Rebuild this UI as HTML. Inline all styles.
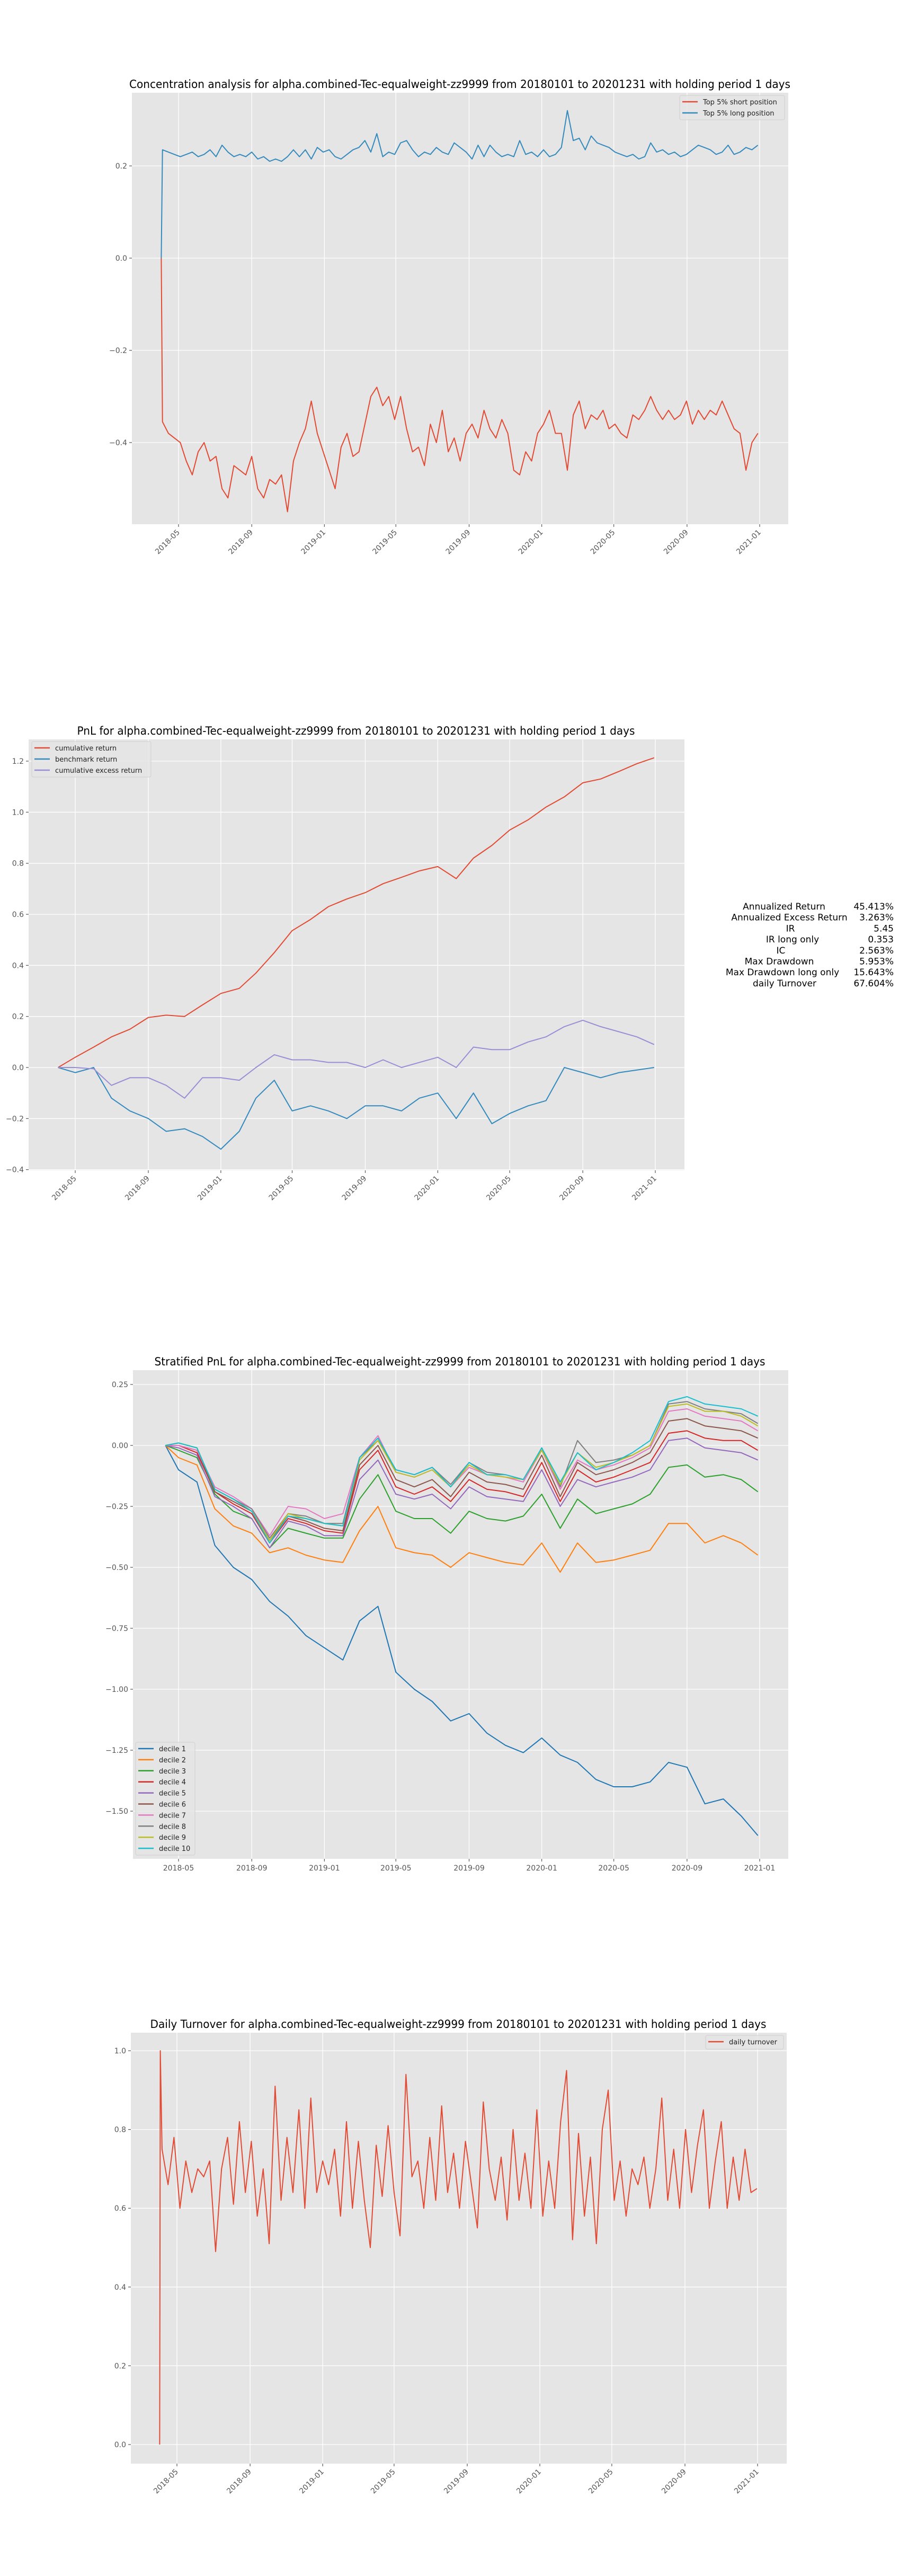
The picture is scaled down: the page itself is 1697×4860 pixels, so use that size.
<!DOCTYPE html>
<html><head><meta charset="utf-8"><style>
html,body{margin:0;padding:0;background:#fff;}
svg{display:block;font-family:"DejaVu Sans","Liberation Sans",sans-serif;}
</style></head><body>
<svg id="fig" width="1697" height="4860" viewBox="0 0 1697 4860" xmlns="http://www.w3.org/2000/svg">
<rect x="0" y="0" width="1697" height="4860" fill="#fff"/>
<g id="stats" font-size="17" fill="#000"></g>
</svg>
<script>
// ---- chart 1: concentration (10-day samples from day 93 of 2018, preceded by start point) ----
const c1Short = [0,-0.355,-0.38,-0.39,-0.40,-0.44,-0.47,-0.42,-0.40,-0.44,-0.43,-0.50,-0.52,-0.45,-0.46,-0.47,-0.43,-0.50,-0.52,-0.48,-0.49,-0.47,-0.55,-0.44,-0.40,-0.37,-0.31,-0.38,-0.42,-0.46,-0.50,-0.41,-0.38,-0.43,-0.42,-0.36,-0.30,-0.28,-0.32,-0.30,-0.35,-0.30,-0.37,-0.42,-0.41,-0.45,-0.36,-0.40,-0.33,-0.42,-0.39,-0.44,-0.38,-0.36,-0.39,-0.33,-0.37,-0.39,-0.35,-0.38,-0.46,-0.47,-0.42,-0.44,-0.38,-0.36,-0.33,-0.38,-0.38,-0.46,-0.34,-0.31,-0.37,-0.34,-0.35,-0.33,-0.37,-0.36,-0.38,-0.39,-0.34,-0.35,-0.33,-0.30,-0.33,-0.35,-0.33,-0.35,-0.34,-0.31,-0.36,-0.33,-0.35,-0.33,-0.34,-0.31,-0.34,-0.37,-0.38,-0.46,-0.40,-0.38];
const c1Long = [0,0.235,0.23,0.225,0.22,0.225,0.23,0.22,0.225,0.235,0.22,0.245,0.23,0.22,0.225,0.22,0.23,0.215,0.22,0.21,0.215,0.21,0.22,0.235,0.22,0.235,0.215,0.24,0.23,0.235,0.22,0.215,0.225,0.235,0.24,0.255,0.23,0.27,0.22,0.23,0.225,0.25,0.255,0.235,0.22,0.23,0.225,0.24,0.23,0.225,0.25,0.24,0.23,0.215,0.245,0.22,0.245,0.23,0.22,0.225,0.22,0.255,0.225,0.23,0.22,0.235,0.22,0.225,0.24,0.32,0.255,0.26,0.235,0.265,0.25,0.245,0.24,0.23,0.225,0.22,0.225,0.215,0.22,0.25,0.23,0.235,0.225,0.23,0.22,0.225,0.235,0.245,0.24,0.235,0.225,0.23,0.245,0.225,0.23,0.24,0.235,0.245];
// ---- chart 2: PnL (month starts Apr 2018 .. Jan 2021) ----
const monthLabels = ["2018-04","2018-05","2018-06","2018-07","2018-08","2018-09","2018-10","2018-11","2018-12","2019-01","2019-02","2019-03","2019-04","2019-05","2019-06","2019-07","2019-08","2019-09","2019-10","2019-11","2019-12","2020-01","2020-02","2020-03","2020-04","2020-05","2020-06","2020-07","2020-08","2020-09","2020-10","2020-11","2020-12","2021-01"];
const pnlCum = [0,0.04,0.08,0.12,0.15,0.196,0.205,0.20,0.245,0.29,0.31,0.37,0.45,0.536,0.58,0.63,0.66,0.685,0.72,0.745,0.77,0.787,0.74,0.82,0.87,0.93,0.97,1.02,1.06,1.115,1.13,1.16,1.19,1.213];
const pnlBench = [0,-0.02,0.0,-0.12,-0.17,-0.20,-0.25,-0.24,-0.27,-0.32,-0.25,-0.12,-0.05,-0.17,-0.15,-0.17,-0.20,-0.15,-0.15,-0.17,-0.12,-0.10,-0.20,-0.10,-0.22,-0.18,-0.15,-0.13,0.0,-0.02,-0.04,-0.02,-0.01,0.0];
const pnlExcess = [0,0.0,-0.005,-0.07,-0.04,-0.04,-0.07,-0.12,-0.04,-0.04,-0.05,0.0,0.05,0.03,0.03,0.02,0.02,0.0,0.03,0.0,0.02,0.04,0.0,0.08,0.07,0.07,0.10,0.12,0.16,0.185,0.16,0.14,0.12,0.09];
// ---- chart 3: stratified PnL ----
const d1 = [0,-0.10,-0.15,-0.41,-0.50,-0.55,-0.64,-0.70,-0.78,-0.83,-0.88,-0.72,-0.66,-0.93,-1.0,-1.05,-1.13,-1.10,-1.18,-1.23,-1.26,-1.20,-1.27,-1.30,-1.37,-1.40,-1.40,-1.38,-1.30,-1.32,-1.47,-1.45,-1.52,-1.60];
const d2 = [0,-0.05,-0.08,-0.26,-0.33,-0.36,-0.44,-0.42,-0.45,-0.47,-0.48,-0.35,-0.25,-0.42,-0.44,-0.45,-0.50,-0.44,-0.46,-0.48,-0.49,-0.40,-0.52,-0.40,-0.48,-0.47,-0.45,-0.43,-0.32,-0.32,-0.40,-0.37,-0.40,-0.45];
const d3 = [0,-0.02,-0.05,-0.20,-0.27,-0.30,-0.42,-0.34,-0.36,-0.38,-0.38,-0.22,-0.12,-0.27,-0.30,-0.30,-0.36,-0.27,-0.30,-0.31,-0.29,-0.20,-0.34,-0.22,-0.28,-0.26,-0.24,-0.20,-0.09,-0.08,-0.13,-0.12,-0.14,-0.19];
const d4 = [0,0.0,-0.03,-0.19,-0.24,-0.28,-0.40,-0.30,-0.32,-0.35,-0.36,-0.10,-0.02,-0.17,-0.20,-0.17,-0.23,-0.14,-0.18,-0.19,-0.21,-0.07,-0.23,-0.10,-0.15,-0.13,-0.10,-0.07,0.05,0.06,0.03,0.02,0.02,-0.02];
const d5 = [0,-0.01,-0.04,-0.21,-0.25,-0.30,-0.42,-0.31,-0.33,-0.37,-0.37,-0.14,-0.06,-0.20,-0.22,-0.20,-0.26,-0.17,-0.21,-0.22,-0.23,-0.10,-0.25,-0.14,-0.17,-0.15,-0.13,-0.10,0.02,0.03,-0.01,-0.02,-0.03,-0.06];
const d6 = [0,0.0,-0.02,-0.19,-0.23,-0.27,-0.39,-0.29,-0.31,-0.34,-0.35,-0.08,0.0,-0.14,-0.17,-0.14,-0.21,-0.11,-0.15,-0.16,-0.18,-0.04,-0.21,-0.07,-0.12,-0.10,-0.07,-0.03,0.10,0.11,0.08,0.07,0.06,0.03];
const d7 = [0,0.0,-0.02,-0.17,-0.21,-0.26,-0.37,-0.25,-0.26,-0.30,-0.28,-0.05,0.04,-0.11,-0.13,-0.10,-0.17,-0.09,-0.12,-0.13,-0.15,-0.02,-0.18,-0.06,-0.10,-0.08,-0.05,-0.01,0.14,0.15,0.12,0.11,0.10,0.06];
const d8 = [0,0.01,-0.01,-0.18,-0.22,-0.26,-0.38,-0.28,-0.29,-0.32,-0.32,-0.05,0.02,-0.10,-0.12,-0.09,-0.16,-0.07,-0.11,-0.12,-0.14,-0.01,-0.17,0.02,-0.07,-0.06,-0.04,0.0,0.17,0.18,0.15,0.14,0.13,0.09];
const d9 = [0,0.01,-0.01,-0.18,-0.22,-0.27,-0.39,-0.28,-0.30,-0.32,-0.33,-0.06,0.02,-0.11,-0.13,-0.10,-0.17,-0.08,-0.12,-0.13,-0.14,-0.02,-0.16,-0.03,-0.09,-0.07,-0.04,0.0,0.16,0.17,0.14,0.14,0.12,0.08];
const d10 = [0,0.01,-0.01,-0.18,-0.22,-0.27,-0.40,-0.29,-0.30,-0.32,-0.33,-0.05,0.03,-0.10,-0.12,-0.09,-0.17,-0.07,-0.12,-0.12,-0.14,-0.01,-0.15,-0.03,-0.10,-0.07,-0.03,0.02,0.18,0.20,0.17,0.16,0.15,0.12];
// ---- chart 4: turnover (start spike, then 10-day samples from day 95) ----
const turnover = [0,1.0,0.75,0.66,0.78,0.60,0.72,0.64,0.70,0.68,0.72,0.49,0.70,0.78,0.61,0.82,0.64,0.77,0.58,0.70,0.51,0.91,0.62,0.78,0.64,0.85,0.60,0.88,0.64,0.72,0.66,0.75,0.58,0.82,0.60,0.77,0.62,0.50,0.76,0.63,0.81,0.64,0.53,0.94,0.68,0.72,0.60,0.78,0.62,0.86,0.64,0.74,0.60,0.77,0.66,0.55,0.87,0.70,0.62,0.73,0.57,0.80,0.62,0.74,0.60,0.85,0.58,0.72,0.60,0.82,0.95,0.52,0.79,0.58,0.73,0.51,0.80,0.90,0.62,0.72,0.58,0.70,0.66,0.73,0.60,0.70,0.88,0.62,0.75,0.60,0.80,0.64,0.76,0.85,0.60,0.72,0.82,0.60,0.73,0.62,0.75,0.64,0.65];
// ---- axis ticks ----
const xTickLabels = ["2018-05","2018-09","2019-01","2019-05","2019-09","2020-01","2020-05","2020-09","2021-01"];
const c1YTicks = [0.2,0.0,-0.2,-0.4];
const c2YTicks = [1.2,1.0,0.8,0.6,0.4,0.2,0.0,-0.2,-0.4];
const c3YTicks = [0.25,0.0,-0.25,-0.5,-0.75,-1.0,-1.25,-1.5];
const c4YTicks = [1.0,0.8,0.6,0.4,0.2,0.0];
const statLabels = ["Annualized Return","Annualized Excess Return","IR","IR long only","IC","Max Drawdown","Max Drawdown long only","daily Turnover"];
const statValues = ["45.413%","3.263%","5.45","0.353","2.563%","5.953%","15.643%","67.604%"];

const NS="http://www.w3.org/2000/svg";
const fig=document.getElementById('fig');
function mk(tag,attrs,parent){const e=document.createElementNS(NS,tag);for(const k in attrs)e.setAttribute(k,attrs[k]);(parent||fig).appendChild(e);return e;}
function dayOf(s){const p=s.split('-');return (Date.UTC(+p[0],+p[1]-1,+(p[2]||1))-Date.UTC(2018,0,1))/86400000;}
function fmt(v,d){const s=Math.abs(v).toFixed(d);return (v<0?'\u2212':'')+s;}

function chart(cfg){
  const g=mk('g',{});
  
  
  const [L,T,R,B]=cfg.box;
  const xs=d=>cfg.x05+(d-120)*(cfg.x01-cfg.x05)/976;
  const ys=v=>cfg.y0+(v-cfg.v0)*(cfg.y1-cfg.y0)/(cfg.v1-cfg.v0);
  const bg=mk('rect',{x:L,y:T,width:R-L,height:B-T,fill:'#E5E5E5'},g);
  
  
  cfg.yTicks.forEach(v=>{
    const y=ys(v);
    mk('line',{x1:L,x2:R,y1:y,y2:y,stroke:'#fff','stroke-width':1.3},g);
    mk('line',{x1:L-5,x2:L,y1:y,y2:y,stroke:'#555','stroke-width':1.2},g);
    const t=mk('text',{x:L-9,y:y+5,'text-anchor':'end','font-size':14,fill:'#555'},g);
    
    
    t.textContent=fmt(v,cfg.yDec);
  });
  xTickLabels.forEach(s=>{
    const x=xs(dayOf(s));
    mk('line',{x1:x,x2:x,y1:T,y2:B,stroke:'#fff','stroke-width':1.3},g);
    mk('line',{x1:x,x2:x,y1:B,y2:B+5,stroke:'#555','stroke-width':1.2},g);
    let t;
    if(cfg.rot){t=mk('text',{x:x+3,y:B+16,'text-anchor':'end','font-size':14,fill:'#555',transform:`rotate(-45 ${x+3} ${B+16})`},g);}
    else{t=mk('text',{x:x,y:B+22,'text-anchor':'middle','font-size':14,fill:'#555'},g);}
    
    
    t.textContent=s;
  });
  const clip='clip'+cfg.name;
  const cp=mk('clipPath',{id:clip},g);mk('rect',{x:L,y:T,width:R-L,height:B-T},cp);
  cfg.series.forEach(se=>{
    const pts=se.vals.map((v,i)=>xs(se.day(i)).toFixed(1)+','+ys(v).toFixed(1)).join(' ');
    const pl=mk('polyline',{points:pts,fill:'none',stroke:se.color,'stroke-width':2,'stroke-linejoin':'round','clip-path':`url(#${clip})`},g);
    
    
  });
  const tt=mk('text',{x:cfg.title[1],y:cfg.title[2],'text-anchor':'middle','font-size':21,fill:'#000',textLength:cfg.title[3],lengthAdjust:'spacingAndGlyphs'},g);
  
  
  tt.textContent=cfg.title[0];
  const lg=cfg.legend;
  const lgG=mk('g',{},g);
  
  
  mk('rect',{x:lg.x,y:lg.y,width:lg.w,height:lg.h,rx:3,fill:'#E5E5E5','fill-opacity':0.8,stroke:'#d0d0d0'},lgG);
  cfg.series.forEach((se,i)=>{
    const yy=lg.y+lg.first+i*lg.step;
    mk('line',{x1:lg.x+5,x2:lg.x+34,y1:yy,y2:yy,stroke:se.color,'stroke-width':2.5},lgG);
    const t=mk('text',{x:lg.x+44,y:yy+5,'font-size':13,fill:'#222'},lgG);
    
    
    t.textContent=se.label;
  });
}
const d10day=i=>i===0?91:93+10*(i-1);
const monthDay=i=>i===0?91:(i===monthLabels.length-1?1094:dayOf(monthLabels[i]));
const monthDay3=i=>i===0?98:(i===monthLabels.length-1?1093:dayOf(monthLabels[i]));
const tDay=i=>i===0?91:(i===1?92:95+10*(i-2));

chart({name:'concentration-chart',box:[249,175,1488,989],x05:337,x01:1434,y0:487,y1:313,v0:0,v1:0.2,yDec:1,yTicks:c1YTicks,rot:true,
  title:['Concentration analysis for alpha.combined-Tec-equalweight-zz9999 from 20180101 to 20201231 with holding period 1 days',868,166,1248],
  legend:{x:1283,y:180,w:198,h:46,first:12,step:21},
  series:[{id:'short-position-line',label:'Top 5% short position',color:'#E24A33',vals:c1Short,day:d10day},
          {id:'long-position-line',label:'Top 5% long position',color:'#348ABD',vals:c1Long,day:d10day}]});
chart({name:'pnl-chart',box:[54,1395,1292,2208],x05:142,x01:1237,y0:2014,y1:1436,v0:0,v1:1.2,yDec:1,yTicks:c2YTicks,rot:true,
  title:['PnL for alpha.combined-Tec-equalweight-zz9999 from 20180101 to 20201231 with holding period 1 days',672,1386,1053],
  legend:{x:60,y:1399,w:225,h:67,first:12,step:21},
  series:[{id:'cumulative-return-line',label:'cumulative return',color:'#E24A33',vals:pnlCum,day:monthDay},
          {id:'benchmark-return-line',label:'benchmark return',color:'#348ABD',vals:pnlBench,day:monthDay},
          {id:'excess-return-line',label:'cumulative excess return',color:'#988ED5',vals:pnlExcess,day:monthDay}]});
const dec=[d1,d2,d3,d4,d5,d6,d7,d8,d9,d10];
const decCol=['#1f77b4','#ff7f0e','#2ca02c','#d62728','#9467bd','#8c564b','#e377c2','#7f7f7f','#bcbd22','#17becf'];
chart({name:'stratified-pnl-chart',box:[251,2585,1488,3507],x05:337,x01:1434,y0:2727,y1:2612,v0:0,v1:0.25,yDec:2,yTicks:c3YTicks,rot:false,
  title:['Stratified PnL for alpha.combined-Tec-equalweight-zz9999 from 20180101 to 20201231 with holding period 1 days',868,2576,1153],
  legend:{x:256,y:3287,w:112,h:213,first:12,step:20.9},
  series:dec.map((v,i)=>({id:'decile-'+(i+1)+'-line',label:'decile '+(i+1),color:decCol[i],vals:v,day:monthDay3}))});
chart({name:'turnover-chart',box:[247,3835,1485,4648],x05:334,x01:1430,y0:4612,y1:3869,v0:0,v1:1,yDec:1,yTicks:c4YTicks,rot:true,
  title:['Daily Turnover for alpha.combined-Tec-equalweight-zz9999 from 20180101 to 20201231 with holding period 1 days',865,3826,1163],
  legend:{x:1332,y:3840,w:147,h:26,first:12,step:21},
  series:[{id:'daily-turnover-line',label:'daily turnover',color:'#E24A33',vals:turnover,day:tDay}]});

const statG=document.getElementById('stats');
const labelCx=[1480,1490,1492,1496,1474,1471,1477,1481];
statLabels.forEach((s,i)=>{
  const y=1716+i*20.7;
  const t=mk('text',{x:labelCx[i],y:y,'text-anchor':'middle'},statG);
  
  
  t.textContent=s;
  const v=mk('text',{x:1687,y:y,'text-anchor':'end'},statG);
  
  
  v.textContent=statValues[i];
});
</script>
</body></html>
